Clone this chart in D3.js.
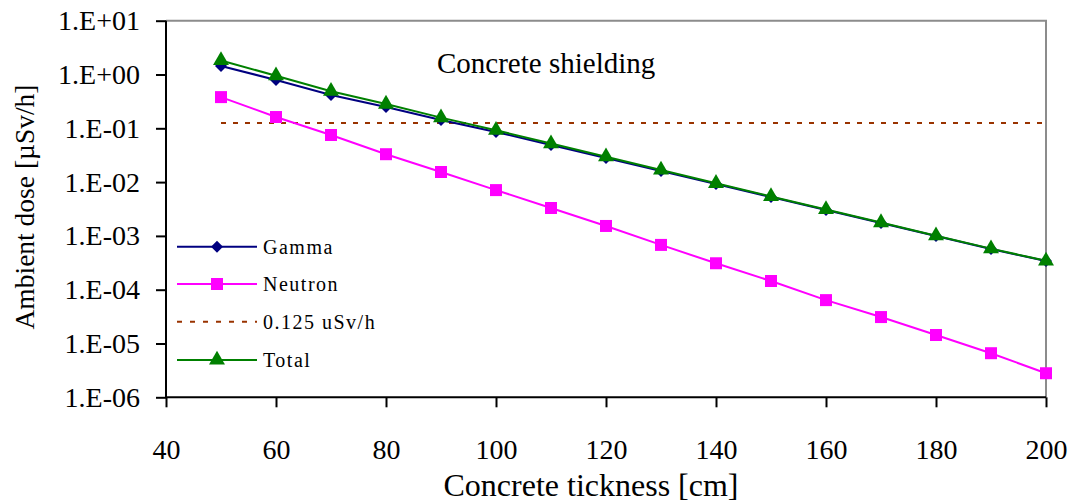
<!DOCTYPE html>
<html><head><meta charset="utf-8">
<script src="https://cdn.jsdelivr.net/npm/d3@7"></script>
<style>
html,body{margin:0;padding:0;background:#fff;}
svg{display:block;font-family:"Liberation Serif","Times New Roman",serif;}
</style></head>
<body><svg id="c" width="1073" height="503"></svg>
<script>
const thickness = [50,60,70,80,90,100,110,120,130,140,150,160,170,180,190,200];
const gamma = [1.44,0.79,0.416,0.249,0.143,0.0853,0.049,0.0281,0.0161,0.00922,0.00528,0.00303,0.00174,0.000995,0.00057,0.000341];
const neutron = [0.38,0.162,0.075,0.033,0.0154,0.0071,0.0033,0.00153,0.00068,0.00031,0.000145,0.000064,0.000031,0.0000144,0.0000066,0.0000028];
const total = [1.82,0.95,0.49,0.282,0.158,0.092,0.052,0.0297,0.0168,0.0095,0.0054,0.0031,0.00177,0.00101,0.00058,0.000344];
const limit = 0.125;
const xTicks = [40,60,80,100,120,140,160,180,200];
const yTicks = [1e1,1e0,1e-1,1e-2,1e-3,1e-4,1e-5,1e-6];
const yTickLabels = ["1.E+01","1.E+00","1.E-01","1.E-02","1.E-03","1.E-04","1.E-05","1.E-06"];
const legendLabels = ["Gamma","Neutron","0.125 uSv/h","Total"];

const svg = d3.select("#c");
const L=166, R=1046, T=20.7, B=397.3;
const x = d3.scaleLinear().domain([40,200]).range([L,R]);
const y = d3.scaleLog().domain([1e-6,10]).range([B,T]);

svg.append("path").attr("d",`M${L},${T}H${R}V${B}`).attr("fill","none").attr("stroke","#8c8c8c").attr("stroke-width",2);

const xAxis = svg.append("g").attr("transform",`translate(0,${B})`)
  .call(d3.axisBottom(x).tickValues(xTicks).tickSize(10).tickPadding(32).tickFormat(d3.format("d")));
const yAxis = svg.append("g").attr("transform",`translate(${L},0)`)
  .call(d3.axisLeft(y).tickValues(yTicks).tickSize(10).tickPadding(16).tickFormat((d,i)=>yTickLabels[i]));
[xAxis,yAxis].forEach(g=>{
  g.select(".domain").attr("stroke","#000").attr("stroke-width",2);
  g.selectAll(".tick line").attr("stroke","#000").attr("stroke-width",2);
  g.selectAll("text").attr("font-family","Liberation Serif").attr("font-size",28).attr("fill","#000");
});
xAxis.select(".domain").attr("d",`M${L},0H${R}`);
yAxis.select(".domain").attr("d",`M0,${B}V${T}`);

svg.append("line").attr("x1",x(50)).attr("x2",x(200)).attr("y1",y(limit)).attr("y2",y(limit))
  .attr("stroke","#993300").attr("stroke-width",2).attr("stroke-dasharray","5,7");

const line = d3.line().x((d,i)=>x(thickness[i])).y(d=>y(d));
const series = [
  {vals:neutron,color:"#FF00FF",sym:d3.symbolSquare,size:144,rot:0},
  {vals:gamma,color:"#000080",sym:d3.symbolSquare,size:72,rot:45},
  {vals:total,color:"#008000",sym:d3.symbolTriangle,size:110,rot:0},
];
series.forEach(s=>{
  svg.append("path").datum(s.vals).attr("d",line).attr("fill","none").attr("stroke",s.color).attr("stroke-width",2);
});
series.forEach(s=>{
  svg.append("g").selectAll("path").data(s.vals).join("path")
    .attr("transform",(d,i)=>`translate(${x(thickness[i])},${y(d)}) rotate(${s.rot})`)
    .attr("d",d3.symbol().type(s.sym).size(s.size)).attr("fill",s.color);
});

const leg = [
  {c:"#000080",sym:d3.symbolSquare,size:72,rot:45,y:246.7},
  {c:"#FF00FF",sym:d3.symbolSquare,size:144,rot:0,y:284},
  {c:"#993300",dash:true,y:321.7},
  {c:"#008000",sym:d3.symbolTriangle,size:110,rot:0,y:360},
];
leg.forEach((l,i)=>{
  svg.append("line").attr("x1",177).attr("x2",257).attr("y1",l.y).attr("y2",l.y)
    .attr("stroke",l.c).attr("stroke-width",2).attr("stroke-dasharray",l.dash?"5,8":null);
  if(l.sym) svg.append("path").attr("transform",`translate(217,${l.y}) rotate(${l.rot})`).attr("d",d3.symbol().type(l.sym).size(l.size)).attr("fill",l.c);
  svg.append("text").attr("x",263).attr("y",l.y).attr("dy","0.35em").attr("font-size",20)
    .attr("letter-spacing","1.5px").text(legendLabels[i]);
});

svg.append("text").attr("x",437).attr("y",73).attr("font-size",29).text("Concrete shielding");
svg.append("text").attr("x",591).attr("y",496).attr("text-anchor","middle").attr("font-size",32).text("Concrete tickness [cm]");
svg.append("text").attr("transform","translate(33.5,207) rotate(-90)").attr("text-anchor","middle").attr("font-size",27.5).text("Ambient dose [µSv/h]");
</script></body></html>
